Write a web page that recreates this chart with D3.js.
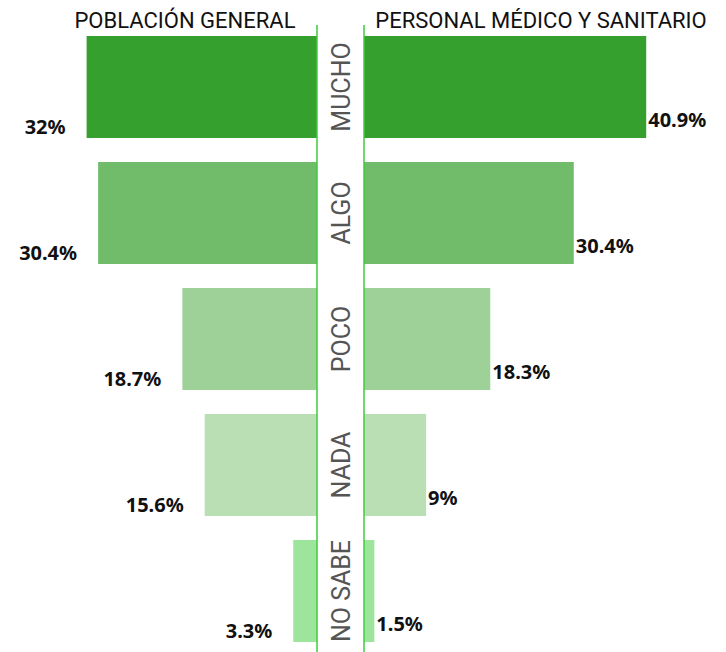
<!DOCTYPE html>
<html>
<head>
<meta charset="utf-8">
<script src="https://cdn.jsdelivr.net/npm/d3@7"></script>
<style>
  body { margin: 0; background: #fff; }
  svg { display: block; }
</style>
</head>
<body>
<svg id="chart" width="726" height="652"></svg>
<script>
const categories = ["MUCHO", "ALGO", "POCO", "NADA", "NO SABE"];
const generalValues = [32, 30.4, 18.7, 15.6, 3.3];
const medicalValues = [40.9, 30.4, 18.3, 9, 1.5];
const valueLabelsLeft = ["32%", "30.4%", "18.7%", "15.6%", "3.3%"];
const valueLabelsRight = ["40.9%", "30.4%", "18.3%", "9%", "1.5%"];
const colors = ["#35a02d", "#70bc6a", "#9dd198", "#badfb5", "#9de59d"];

const width = 726, height = 652;
const leftEdge = 317, rightEdge = 364;
const svg = d3.select("#chart");

const mapY = d3.scaleBand()
    .domain(categories)
    .range([24, 654])
    .paddingInner(0.1905)
    .paddingOuter(0.0952);

const mapLeft = d3.scaleLinear().domain([0, 40]).range([leftEdge, leftEdge - 288]);
const mapRight = d3.scaleLinear().domain([0, 50]).range([rightEdge, rightEdge + 345]);

const rows = categories.map((c, i) => ({
    cat: c, gen: generalValues[i], med: medicalValues[i],
    genLabel: valueLabelsLeft[i], medLabel: valueLabelsRight[i], color: colors[i]
}));

// left bars
svg.append("g").selectAll("rect")
    .data(rows).enter().append("rect")
    .attr("x", d => mapLeft(d.gen))
    .attr("y", d => mapY(d.cat))
    .attr("width", d => leftEdge - mapLeft(d.gen))
    .attr("height", mapY.bandwidth())
    .attr("fill", d => d.color);

// right bars
svg.append("g").selectAll("rect")
    .data(rows).enter().append("rect")
    .attr("x", rightEdge)
    .attr("y", d => mapY(d.cat))
    .attr("width", d => mapRight(d.med) - rightEdge)
    .attr("height", mapY.bandwidth())
    .attr("fill", d => d.color);

// center lines
[leftEdge, rightEdge].forEach(x => {
    svg.append("line")
        .attr("x1", x).attr("x2", x)
        .attr("y1", 25).attr("y2", height)
        .attr("stroke", "#3dcc3d")
        .attr("stroke-width", 1.5);
});

// category labels
svg.append("g").selectAll("text")
    .data(rows).enter().append("text")
    .attr("transform", d => `translate(${(leftEdge + rightEdge) / 2 + 9}, ${mapY(d.cat) + mapY.bandwidth() / 2}) rotate(-90)`)
    .attr("text-anchor", "middle")
    .attr("font-family", "'Liberation Sans Narrow', 'Roboto', sans-serif")
    .attr("font-size", 25)
    .attr("fill", "#555")
    .text(d => d.cat);

// value labels
svg.append("g").selectAll("text")
    .data(rows).enter().append("text")
    .attr("x", d => mapLeft(d.gen) - 21)
    .attr("y", d => mapY(d.cat) + mapY.bandwidth() - 4)
    .attr("text-anchor", "end")
    .attr("font-family", "'Noto Sans', sans-serif")
    .attr("font-weight", "bold")
    .attr("font-size", 20)
    .attr("fill", "#111")
    .text(d => d.genLabel);

svg.append("g").selectAll("text")
    .data(rows).enter().append("text")
    .attr("x", d => mapRight(d.med) + 2)
    .attr("y", d => mapY(d.cat) + mapY.bandwidth() - 11)
    .attr("font-family", "'Noto Sans', sans-serif")
    .attr("font-weight", "bold")
    .attr("font-size", 20)
    .attr("fill", "#111")
    .text(d => d.medLabel);

// titles
svg.append("text")
    .attr("x", 185).attr("y", 28)
    .attr("text-anchor", "middle")
    .attr("font-family", "'Liberation Sans Narrow', 'Roboto', sans-serif")
    .attr("font-size", 22)
    .attr("fill", "#111")
    .text("POBLACIÓN GENERAL");

svg.append("text")
    .attr("x", 541).attr("y", 28)
    .attr("text-anchor", "middle")
    .attr("font-family", "'Liberation Sans Narrow', 'Roboto', sans-serif")
    .attr("font-size", 22)
    .attr("fill", "#111")
    .text("PERSONAL MÉDICO Y SANITARIO");
</script>
</body>
</html>
